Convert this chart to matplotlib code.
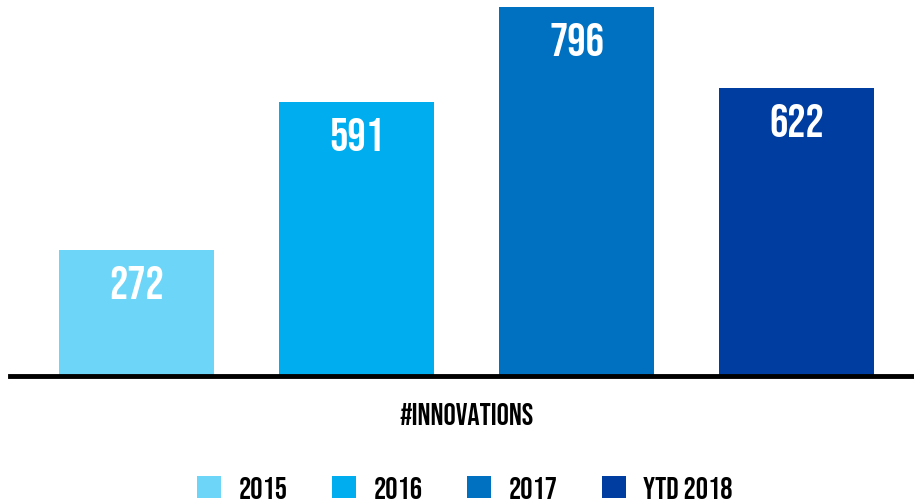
import matplotlib
matplotlib.use("Agg")
import matplotlib.pyplot as plt
from matplotlib.patches import Patch
from matplotlib import font_manager

years = ["2015", "2016", "2017", "YTD 2018"]
innovations = [272, 591, 796, 622]
colors = ["#6dd6f8", "#00aeef", "#0071c1", "#003da1"]

# condensed display face, with fallbacks
names = {f.name for f in font_manager.fontManager.ttflist}
family = [n for n in ["Bebas Neue", "Oswald", "Barlow Condensed", "DejaVu Sans"] if n in names]
plt.rcParams["font.family"] = family

fig = plt.figure(figsize=(9.14, 5.02), dpi=100)
W, H = 914, 502
ax = fig.add_axes([10 / W, 125 / H, 904 / W, 369 / H])

x = list(range(len(years)))
ax.bar(x, innovations, width=155 / 220, color=colors)
for xi, v in zip(x, innovations):
    ax.annotate(str(v), (xi, v), xytext=(0, -23), textcoords="offset points",
                ha="center", va="center", color="white", fontsize=33)

ax.set_xlim(-126.5 / 220, 777.5 / 220)
ax.set_ylim(0, 796)
for s in ["top", "right", "left"]:
    ax.spines[s].set_visible(False)
ax.spines["bottom"].set_linewidth(3.5)
ax.spines["bottom"].set_color("black")
ax.set_yticks([])
ax.set_xticks([])

fig.text(467 / W, 1 - 414 / H, "#INNOVATIONS", ha="center", va="center",
         fontsize=22, color="black")

handles = [Patch(facecolor=c, edgecolor="none") for c in colors]
fig.legend(handles, years, loc="center", bbox_to_anchor=(465 / W, 1 - 488 / H),
           ncol=4, frameon=False, fontsize=22, handlelength=0.78, handleheight=0.78,
           handletextpad=0.58, columnspacing=1.45, borderpad=0, borderaxespad=0)

fig.savefig("out.png", dpi=100)
